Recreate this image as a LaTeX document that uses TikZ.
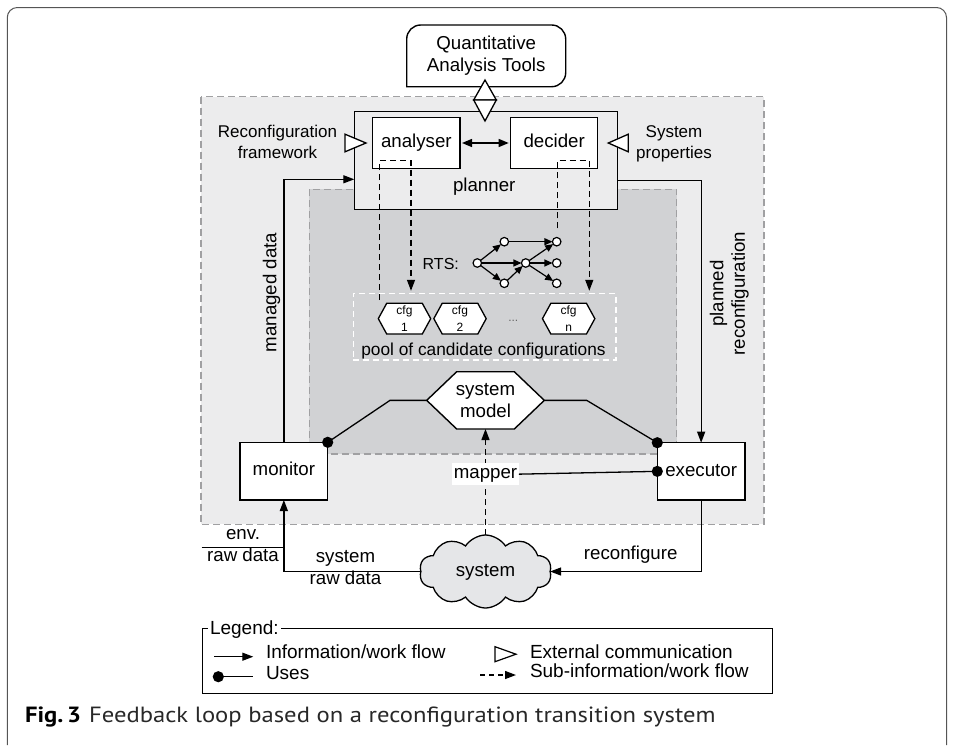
\documentclass[tikz,border=0pt]{standalone}
\usepackage{fontspec}
\setmainfont{Liberation Sans}
\newfontfamily\capfont[FakeStretch=1.12]{PT Sans}
\usetikzlibrary{arrows.meta,shapes.symbols,calc}

\definecolor{outergray}{RGB}{236,236,237}
\definecolor{innergray}{RGB}{209,210,212}
\definecolor{dashgray}{RGB}{160,160,162}
\definecolor{cloudgray}{RGB}{229,230,232}
\definecolor{framegray}{RGB}{85,85,85}
\definecolor{captext}{RGB}{40,40,40}

\begin{document}
\begin{tikzpicture}[x=1pt,y=-1pt,
  every node/.style={inner sep=0pt,outer sep=0pt},
  lbl/.style={font=\fontsize{18.7}{21.5}\selectfont,align=center},
  sidelbl/.style={font=\fontsize{17}{21}\selectfont,align=center},
  leglbl/.style={font=\fontsize{19}{21}\selectfont,text height=13.7pt,text depth=4pt},
  oneline/.style={text height=13.5pt,text depth=4pt},
  box/.style={draw,line width=1.4pt,fill=white,lbl,oneline},
  hexline/.style={draw,fill=white,line join=miter},
  cfgarea/.style={minimum width=52.4pt,minimum height=30.7pt},
  cfglbl/.style={font=\fontsize{12}{16.3}\selectfont,align=center},
  flow/.style={line width=1.3pt,-{Triangle[length=11pt,width=8pt]}},
  subflow/.style={line width=1.3pt,dash pattern=on 6pt off 4pt,-{Triangle[length=11pt,width=8pt]}},
  uses/.style={line width=1.3pt},
  extcom/.style={draw,line width=1.3pt,fill=white,line join=miter},
  rtsnode/.style={circle,draw,line width=1.2pt,fill=white,minimum size=8.5pt},
  rtsedge/.style={line width=1.2pt,-{Triangle[length=8pt,width=7pt]}},
  region/.style={draw=dashgray,line width=1.2pt,dash pattern=on 7pt off 4pt},
]
\useasboundingbox (0,0) rectangle (954,745);

% frame around figure and caption
\draw[framegray,line width=1pt,rounded corners=10pt] (7.3,745) -- (7.3,7.5) -- (946.5,7.5) -- (946.5,745);

% shaded regions
\path[region,fill=outergray] (201,96.7) rectangle (764,524.3);
\path[region,fill=innergray] (309.3,189.3) rectangle (676.7,454);
\node[draw=white,line width=1.3pt,dash pattern=on 6pt off 4pt,minimum width=262.7pt,minimum height=66.7pt] (pool) at (484.65,326.65) {};

% quantitative analysis tools
\node[lbl,minimum width=159pt,minimum height=61.7pt] (qat) at (486.2,55.85) {Quantitative\\Analysis Tools};
\draw[line width=1.4pt] (qat.south west) [rounded corners=14pt] -- (qat.north west) -- (qat.north east) -- (qat.south east) [sharp corners] -- cycle;

% planner with analyser and decider
\node[draw,line width=1.4pt,fill=outergray,minimum width=263.4pt,minimum height=97.6pt] (planner) at (486,160.5) {};
\node[lbl,oneline] (plannerlbl) at (484.2,186.7) {planner};
\node[box,minimum width=87.3pt,minimum height=50.6pt] (analyser) at (416.35,143) {analyser};
\node[box,minimum width=87pt,minimum height=50.6pt] (decider) at (554.2,143) {decider};

\node[sidelbl] (rflbl) at (277.5,141.8) {Reconfiguration\\framework};
\node[sidelbl] (splbl) at (674,143.6) {System\\properties};

% pool of candidate configurations: hexagonal cfg tokens
\node[cfgarea] (cfg1) at (404.5,318.65) {};
\node[cfgarea] (cfg2) at (460,318.65) {};
\node[cfgarea] (cfgn) at (568.65,318.65) {};
\foreach \c in {cfg1,cfg2,cfgn}{
  \draw[hexline,line width=1.3pt] (\c.west) -- ($(\c.north west)+(8.4,0)$) -- ($(\c.north east)+(-8.4,0)$)
    -- (\c.east) -- ($(\c.south east)+(-8.4,0)$) -- ($(\c.south west)+(8.4,0)$) -- cycle;
}
\node[cfglbl] (cfg1lbl) at (cfg1) {cfg\\1};
\node[cfglbl] (cfg2lbl) at (cfg2) {cfg\\2};
\node[cfglbl] (cfgnlbl) at (cfgn) {cfg\\n};
\node[font=\fontsize{12}{14}\selectfont,text=black!60] (dots) at (513.3,321) {...};
\node[font=\fontsize{17.3}{20}\selectfont,text height=12.5pt,text depth=3.7pt] (poollbl) at (483.5,350.7) {pool of candidate configurations};

% reconfiguration transition system
\node[font=\fontsize{16}{18}\selectfont,text height=11.5pt,text depth=0pt] (rtslbl) at (440.8,263.3) {RTS:};
\node[rtsnode] (s0) at (477.3,263) {};
\node[rtsnode] (ra) at (504.3,241.7) {};
\node[rtsnode] (rb) at (504.3,283.3) {};
\node[rtsnode] (rc) at (525.7,263) {};
\node[rtsnode] (rd) at (556.7,241.7) {};
\node[rtsnode] (re) at (556.7,263) {};
\node[rtsnode] (rf) at (556.7,283.3) {};
\draw[rtsedge] (s0) -- (ra);
\draw[rtsedge] (s0) -- (rc);
\draw[rtsedge] (s0) -- (rb);
\draw[rtsedge] (ra) -- (rd);
\draw[rtsedge] (rb) -- (rc);
\draw[rtsedge] (rc) -- (rd);
\draw[rtsedge] (rc) -- (re);
\draw[rtsedge] (rc) -- (rf);

% system model hexagon
\node[minimum width=117.6pt,minimum height=57.3pt] (sm) at (485.5,400.35) {};
\draw[hexline,line width=1.4pt] (sm.west) -- ($(sm.north west)+(30,0)$) -- ($(sm.north east)+(-30,0)$)
  -- (sm.east) -- ($(sm.south east)+(-30,0)$) -- ($(sm.south west)+(30,0)$) -- cycle;
\node[lbl] (smlbl) at (sm) {system\\model};

% monitor, executor, system
\node[box,minimum width=87.7pt,minimum height=57.7pt] (monitor) at (283.85,471.15) {monitor};
\node[box,minimum width=87.7pt,minimum height=57.3pt] (executor) at (701.15,471.35) {executor};
\node[cloud,draw,line width=1.3pt,fill=cloudgray,cloud puffs=10,cloud puff arc=115,cloud ignores aspect,
  minimum width=132pt,minimum height=73pt,lbl,oneline] (cloud) at (485.5,571.5) {system};

% loop labels
\node[lbl,oneline,rotate=90] (mdlbl) at (271.7,292.5) {managed data};
\node[lbl,rotate=90] (prlbl) at (729.2,293.5) {planned\\reconfiguration};
\node[lbl] (envlbl) at (243,545.8) {env.\\raw data};
\node[lbl] (srlbl) at (345.5,567.7) {system\\raw data};
\node[lbl,oneline] (rclbl) at (630.7,555) {reconfigure};

% external communication between tools and planner
\coordinate (dm) at (485,100);
\draw[extcom] (dm) ++(-11.3,0) -- ++(11.3,-20) -- ++(11.3,20) -- cycle;
\draw[extcom] (dm) ++(-11.3,0) -- ++(11.3,21) -- ++(11.3,-21) -- cycle;
\coordinate (rfin) at (planner.west |- analyser.west);
\draw[extcom] (rfin) ++(-9.3,-8.8) -- ++(21,8.8) -- ++(-21,8.8) -- cycle;
\coordinate (spin) at (planner.east |- decider.east);
\draw[extcom] (spin) ++(10.6,-8.8) -- ++(-20,8.8) -- ++(20,8.8) -- cycle;

% information flow
\draw[line width=1.3pt,{Triangle[length=10pt,width=8pt]}-{Triangle[length=10pt,width=8pt]},shorten <=2pt,shorten >=2pt] (analyser) -- (decider);
\draw[flow] (monitor.north) |- ([yshift=-18.8pt]planner.west);
\draw[flow] ([yshift=-20.2pt]planner.east) -| (executor.north);
\draw[flow] (executor.south) |- (cloud.east);
\draw[flow] (cloud.west) -| (monitor.south);
\coordinate (envin) at (201.7,547.7);
\draw[uses] (envin) -- (envin -| monitor.south);

% sub-flows of analyser and decider
\coordinate (asl) at ($(analyser.south west)+(6.6,-7.6)$);
\coordinate (asr) at ($(analyser.south west)+(38.3,-7.6)$);
\draw[subflow] ($(asl |- pool.north)+(0,6.7)$) -- (asl) -- (asr) -- ($(asr |- pool.north)+(0,-2.5)$);
\coordinate (dsl) at ($(decider.south west)+(46.6,-7.6)$);
\coordinate (dsr) at ($(decider.south west)+(78.6,-7.6)$);
\draw[subflow] ($(dsl |- rd.north)+(0,-9)$) -- (dsl) -- (dsr) -- ($(dsr |- pool.north)+(0,-2.5)$);

% mapper and uses relations
\draw[subflow] (cloud.north) -- (sm.south) node[pos=0.574,fill=white,inner xsep=1.6pt,inner ysep=2pt,lbl,oneline] (mapper) {mapper};
\draw[uses] (mapper.east) -- (executor.west);
\fill (executor.west) circle (5.6pt);
\draw[uses] (monitor.north east) -- ($(sm.west)+(-36.7,0)$) -- (sm.west);
\fill (monitor.north east) circle (5.6pt);
\draw[uses] (executor.north west) -- ($(sm.east)+(42.4,0)$) -- (sm.east);
\fill (executor.north west) circle (5.6pt);

% legend
\node[draw,line width=1.3pt,minimum width=569.6pt,minimum height=65pt] (legend) at (487.5,660.8) {};
\node[leglbl,fill=white,inner xsep=2pt,anchor=west] (legtitle) at (208,629.2) {Legend:};
\coordinate (l1a) at (214,656.7);
\coordinate (l1b) at (253.3,656.7);
\draw[flow] (l1a) -- (l1b);
\node[leglbl,anchor=west] (l1txt) at (266,654) {Information/work flow};
\coordinate (l2a) at (218.3,676.7);
\coordinate (l2b) at (252.7,676.7);
\draw[uses] (l2a) -- (l2b);
\fill (l2a) circle (5.6pt);
\node[leglbl,anchor=west] (l2txt) at (266,675) {Uses};
\draw[extcom,line width=1.2pt] (495,646.7) -- (516,654.2) -- (495,661.7) -- cycle;
\node[leglbl,anchor=west] (l3txt) at (530,653.5) {External communication};
\coordinate (l4a) at (480,675);
\coordinate (l4b) at (516,675);
\draw[subflow,dash pattern=on 5pt off 4pt] (l4a) -- (l4b);
\node[leglbl,anchor=west] (l4txt) at (530,673) {Sub-information/work flow};

% caption
\node[anchor=base west,text=captext] (caption) at (25,722) {\capfont\fontsize{22}{24}\selectfont\textbf{\color{black}Fig.\,3}\hspace{8pt}Feedback loop based on a reconfiguration transition system};
\end{tikzpicture}
\end{document}
